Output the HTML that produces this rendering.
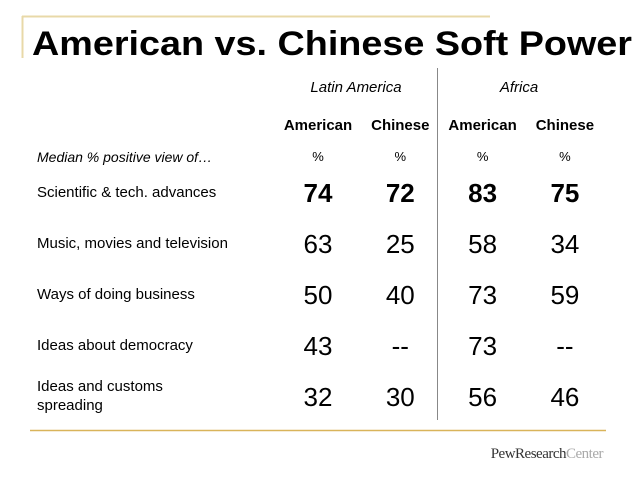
<!DOCTYPE html>
<html><head><meta charset="utf-8"><style>
html,body{margin:0;padding:0;background:#fff;width:638px;height:479px;overflow:hidden}
svg text{font-family:"Liberation Sans","DejaVu Sans",sans-serif;fill:#000}
</style></head><body>
<svg id="c" width="638" height="479" viewBox="0 0 638 479">
<line x1="22" y1="16.5" x2="490" y2="16.5" stroke="#e8d9a8" stroke-width="2"/>
<line x1="22.5" y1="16" x2="22.5" y2="58" stroke="#e8d9a8" stroke-width="2"/>
<text x="32" y="55" font-size="34" font-weight="bold" textLength="600" lengthAdjust="spacingAndGlyphs">American vs. Chinese Soft Power</text>
<line x1="437.5" y1="68" x2="437.5" y2="420" stroke="#888" stroke-width="1"/>
<line x1="30" y1="430.5" x2="606" y2="430.5" stroke="#d9b45a" stroke-width="1.5"/>
<text x="356" y="92" font-size="15" font-style="italic" text-anchor="middle">Latin America</text>
<text x="519" y="92" font-size="15" font-style="italic" text-anchor="middle">Africa</text>
<text x="37" y="162" font-size="14" font-style="italic">Median % positive view of…</text>
<text x="603" y="458" font-size="15" text-anchor="end" font-family="Liberation Serif" style="font-family:'Liberation Serif',serif;letter-spacing:-0.5px"><tspan fill="#333">PewResearch</tspan><tspan fill="#aaa">Center</tspan></text>
<g id="cells"></g>
</svg>
<script>
const categories=["Scientific & tech. advances","Music, movies and television","Ways of doing business","Ideas about democracy","Ideas and customs spreading"];
const columns=["American","Chinese","American","Chinese"];
const latinAmerican=["74","63","50","43","32"];
const latinChinese=["72","25","40","--","30"];
const africaAmerican=["83","58","73","73","56"];
const africaChinese=["75","34","59","--","46"];
const series=[latinAmerican,latinChinese,africaAmerican,africaChinese];
const NS="http://www.w3.org/2000/svg";
const g=document.getElementById('cells');
const colX=i=>318+i*82.3;
const rowY=i=>192+i*51;
function t(x,y,s,size,attrs){const e=document.createElementNS(NS,'text');e.setAttribute('x',x);e.setAttribute('y',y);e.setAttribute('font-size',size);for(const k in attrs)e.setAttribute(k,attrs[k]);e.textContent=s;g.appendChild(e);return e;}
columns.forEach((c,i)=>{
 const h=t(colX(i),130,c,15,{'font-weight':'bold','text-anchor':'middle'});
 
 
 const p=t(colX(i),161,'%',13,{'text-anchor':'middle'});
 
 
});
categories.forEach((cat,r)=>{
 const y=rowY(r);
 let lab;
 if(cat==="Ideas and customs spreading"){
  lab=t(37,y-5,'Ideas and customs',15,{});
  const ts=document.createElementNS(NS,'tspan');ts.setAttribute('x',37);ts.setAttribute('dy',19);ts.textContent='spreading';lab.appendChild(ts);
 } else lab=t(37,y+5,cat,15,{});
 
 
 series.forEach((s,i)=>{
  const v=t(colX(i),y+10,s[r],26,{'text-anchor':'middle','font-weight':r===0?'bold':'normal'});
  
  
 });
});
</script>
</body></html>
